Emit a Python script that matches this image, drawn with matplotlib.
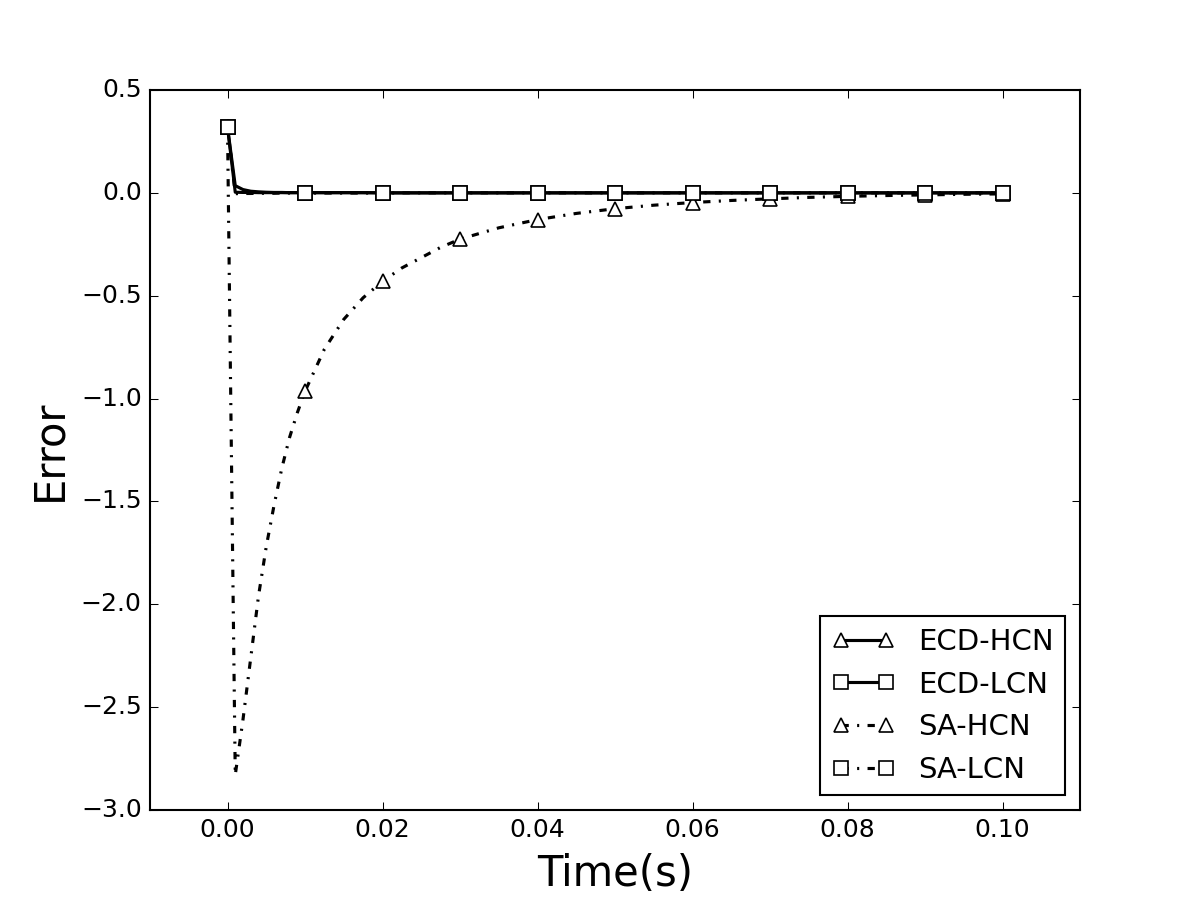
import numpy as np
import matplotlib
matplotlib.use("Agg")
import matplotlib.pyplot as plt

plt.style.use("classic")

# time samples (s)
t = [0.000, 0.001, 0.002, 0.003, 0.004, 0.005, 0.006, 0.007, 0.008, 0.009, 0.010,
     0.0125, 0.015, 0.0175, 0.020, 0.0225, 0.025, 0.0275, 0.030,
     0.035, 0.040, 0.045, 0.050, 0.055, 0.060, 0.065, 0.070, 0.075,
     0.080, 0.085, 0.090, 0.095, 0.100]

ecd_hcn = [0.32, 0.003, 0.002, 0.002, 0.001, 0.001, 0.001, 0.001, 0.001, 0.001, 0.001,
           0.001, 0.001, 0.001, 0.0, 0.0, 0.0, 0.0, 0.0,
           0.0, 0.0, 0.0, 0.0, 0.0, 0.0, 0.0, 0.0, 0.0,
           0.0, 0.0, 0.0, 0.0, 0.0]

ecd_lcn = [0.32, 0.035, 0.016, 0.008, 0.005, 0.003, 0.002, 0.002, 0.001, 0.001, 0.001,
           0.001, 0.001, 0.001, 0.0, 0.0, 0.0, 0.0, 0.0,
           0.0, 0.0, 0.0, 0.0, 0.0, 0.0, 0.0, 0.0, 0.0,
           0.0, 0.0, 0.0, 0.0, 0.0]

sa_hcn = [0.32, -2.83, -2.56, -2.26, -1.96, -1.72, -1.52, -1.34, -1.19, -1.07, -0.965,
          -0.76, -0.615, -0.51, -0.43, -0.365, -0.315, -0.265, -0.225,
          -0.17, -0.13, -0.10, -0.077, -0.06, -0.047, -0.037, -0.029, -0.022,
          -0.017, -0.013, -0.010, -0.007, -0.005]

sa_lcn = [0.32, -0.004, -0.003, -0.003, -0.002, -0.002, -0.002, -0.001, -0.001, -0.001, -0.001,
          -0.001, -0.001, -0.001, -0.001, 0.0, 0.0, 0.0, 0.0,
          0.0, 0.0, 0.0, 0.0, 0.0, 0.0, 0.0, 0.0, 0.0,
          0.0, 0.0, 0.0, 0.0, 0.0]

labels = ["ECD-HCN", "ECD-LCN", "SA-HCN", "SA-LCN"]

t_arr = np.array(t)
marks = list(np.isclose(np.round(t_arr * 100), t_arr * 100))

fig, ax = plt.subplots(figsize=(8, 6), dpi=150)
fig.patch.set_facecolor("white")

styles = [("-", "^"), ("-", "s"), ("-.", "^"), ("-.", "s")]
for vals, lab, (ls, mk) in zip([ecd_hcn, ecd_lcn, sa_hcn, sa_lcn], labels, styles):
    line, = ax.plot(t, vals, color="k", linestyle=ls, linewidth=1.5, marker=mk,
                    markersize=6.5, markerfacecolor="w", markeredgecolor="k",
                    markeredgewidth=0.8, markevery=marks, label=lab)
    if ls == "-.":
        line.set_dashes((3.5, 4, 1, 4))

ax.set_xlim(-0.01, 0.11)
ax.set_ylim(-3.0, 0.5)
ax.set_xticks(np.arange(0.0, 0.101, 0.02))
ax.set_yticks(np.arange(-3.0, 0.51, 0.5))
ax.tick_params(labelsize=12)
ax.set_xlabel("Time(s)", fontsize=20)
ax.set_ylabel("Error", fontsize=20)

ax.legend(loc="lower right", fontsize=14, numpoints=2, handlelength=2.15,
          fancybox=False, frameon=True)

fig.savefig("out.png", dpi=150, facecolor="white")
